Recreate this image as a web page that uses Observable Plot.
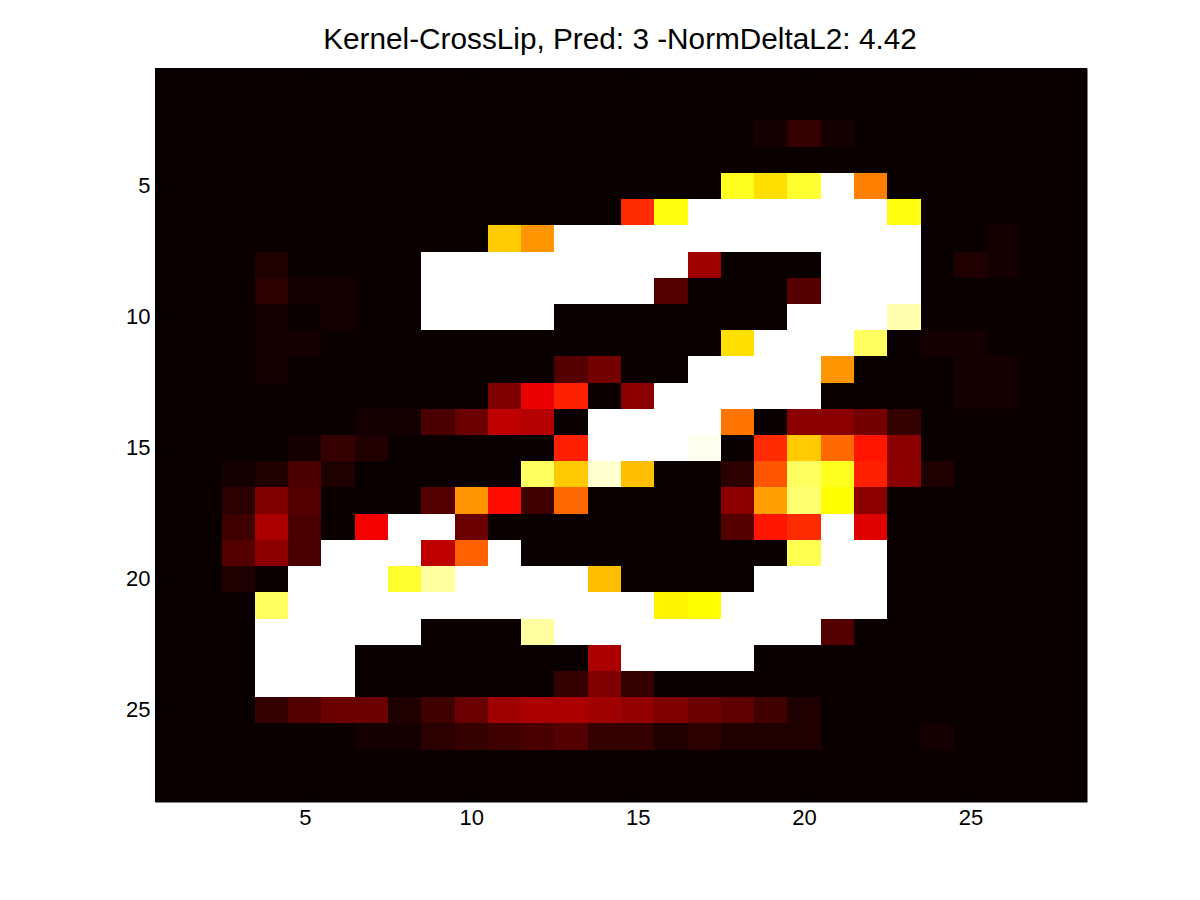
<!DOCTYPE html>
<html>
<head>
<meta charset="utf-8">
<script src="https://cdn.jsdelivr.net/npm/d3@7"></script>
<script src="https://cdn.jsdelivr.net/npm/@observablehq/plot@0.6"></script>
<style>
  html, body { margin: 0; padding: 0; background: #fff; }
  #title { height: 68px; width: 1240px; text-align: center; font-family: "Liberation Sans", Arial, sans-serif; font-size: 29.75px; color: #000; line-height: 78px; white-space: nowrap; overflow: visible; }
  #chart svg { display: block; }
</style>
</head>
<body>
<div id="title"></div>
<div id="chart"></div>
<script>
const titleText = "Kernel-CrossLip, Pred: 3 -NormDeltaL2: 4.42";
const xTicks = [5, 10, 15, 20, 25];
const yTicks = [5, 10, 15, 20, 25];
// colormap anchors of the "hot" map, and levels 1..64 per row
const levelStops = [1, 24, 48, 64];
const levelColors = ["#0a0000", "#ff0000", "#ffff00", "#ffffff"];

const row01 = [1,1,1,1,1, 1,1,1,1,1, 1,1,1,1,1, 1,1,1,1,1, 1,1,1,1,1, 1,1,1];
const row02 = [1,1,1,1,1, 1,1,1,1,1, 1,1,1,1,1, 1,1,1,1,1, 1,1,1,1,1, 1,1,1];
const row03 = [1,1,1,1,1, 1,1,1,1,1, 1,1,1,1,1, 1,1,1,2,5, 2,1,1,1,1, 1,1,1];
const row04 = [1,1,1,1,1, 1,1,1,1,1, 1,1,1,1,1, 1,1,1,1,1, 1,1,1,1,1, 1,1,1];
const row05 = [1,1,1,1,1, 1,1,1,1,1, 1,1,1,1,1, 1,1,50,45,51, 64,36,1,1,1, 1,1,1];
const row06 = [1,1,1,1,1, 1,1,1,1,1, 1,1,1,1,28, 49,64,64,64,64, 64,64,49,1,1, 1,1,1];
const row07 = [1,1,1,1,1, 1,1,1,1,1, 43,38,64,64,64, 64,64,64,64,64, 64,64,64,1,1, 2,1,1];
const row08 = [1,1,1,3,1, 1,1,1,64,64, 64,64,64,64,64, 64,15,1,1,1, 64,64,64,1,3, 2,1,1];
const row09 = [1,1,1,4,2, 2,1,1,64,64, 64,64,64,64,64, 8,1,1,1,8, 64,64,64,1,1, 1,1,1];
const row10 = [1,1,1,2,1, 2,1,1,64,64, 64,64,1,1,1, 1,1,1,1,64, 64,64,59,1,1, 1,1,1];
const row11 = [1,1,1,2,2, 1,1,1,1,1, 1,1,1,1,1, 1,1,45,64,64, 64,54,1,2,2, 1,1,1];
const row12 = [1,1,1,2,1, 1,1,1,1,1, 1,1,8,11,1, 1,64,64,64,64, 38,1,1,1,2, 2,1,1];
const row13 = [1,1,1,1,1, 1,1,1,1,1, 12,22,27,1,13, 64,64,64,64,64, 1,1,1,1,2, 2,1,1];
const row14 = [1,1,1,1,1, 1,2,2,7,10, 18,17,1,64,64, 64,64,35,1,13, 13,11,5,1,1, 1,1,1];
const row15 = [1,1,1,1,2, 5,3,1,1,1, 1,1,27,64,64, 64,63,1,28,43, 34,26,13,1,1, 1,1,1];
const row16 = [1,1,2,3,7, 3,1,1,1,1, 1,54,43,61,42, 1,1,4,32,54, 50,27,13,3,1, 1,1,1];
const row17 = [1,1,4,12,8, 1,1,1,8,38, 25,6,34,1,1, 1,1,13,39,55, 48,13,1,1,1, 1,1,1];
const row18 = [1,1,6,16,7, 1,23,64,64,10, 1,1,1,1,1, 1,1,8,26,28, 64,21,1,1,1, 1,1,1];
const row19 = [1,1,8,13,7, 64,64,64,18,33, 64,1,1,1,1, 1,1,1,1,53, 64,64,1,1,1, 1,1,1];
const row20 = [1,1,3,1,64, 64,64,51,58,64, 64,64,64,42,1, 1,1,1,64,64, 64,64,1,1,1, 1,1,1];
const row21 = [1,1,1,54,64, 64,64,64,64,64, 64,64,64,64,64, 47,48,64,64,64, 64,64,1,1,1, 1,1,1];
const row22 = [1,1,1,64,64, 64,64,64,1,1, 1,58,64,64,64, 64,64,64,64,64, 8,1,1,1,1, 1,1,1];
const row23 = [1,1,1,64,64, 64,1,1,1,1, 1,1,1,16,64, 64,64,64,1,1, 1,1,1,1,1, 1,1,1];
const row24 = [1,1,1,64,64, 64,1,1,1,1, 1,1,5,12,5, 1,1,1,1,1, 1,1,1,1,1, 1,1,1];
const row25 = [1,1,1,5,8, 10,10,3,6,10, 15,16,16,15,14, 12,10,9,6,3, 1,1,1,1,1, 1,1,1];
const row26 = [1,1,1,1,1, 1,2,2,4,5, 6,7,8,5,5, 3,4,3,3,3, 1,1,1,2,1, 1,1,1];
const row27 = [1,1,1,1,1, 1,1,1,1,1, 1,1,1,1,1, 1,1,1,1,1, 1,1,1,1,1, 1,1,1];
const row28 = [1,1,1,1,1, 1,1,1,1,1, 1,1,1,1,1, 1,1,1,1,1, 1,1,1,1,1, 1,1,1];

const rows = [row01,row02,row03,row04,row05,row06,row07,row08,row09,row10,row11,row12,row13,row14,
              row15,row16,row17,row18,row19,row20,row21,row22,row23,row24,row25,row26,row27,row28];
const table = rows.flatMap((r, j) => r.map((v, i) => ({col: i + 1, row: j + 1, level: v})));
const index = d3.range(1, 29);
const axisFont = {fontSize: 22, fontFamily: "Liberation Sans, Arial, sans-serif", fill: "#000"};

document.getElementById("title").textContent = titleText;
const plotH = 734;
const plotW = 932;
const tickLen = 9;
const plot = Plot.plot({
  width: 1200,
  height: 832,
  marginTop: 0,
  marginLeft: 155,
  marginRight: 113,
  marginBottom: 98,
  style: {background: "#fff"},
  x: {type: "band", domain: index, padding: 0, round: false},
  y: {type: "band", domain: index, padding: 0, round: false},
  color: {type: "linear", domain: levelStops, range: levelColors, interpolate: "rgb", clamp: true},
  marks: [
    Plot.cell(table, {x: "col", y: "row", fill: "level", shapeRendering: "crispEdges"}),
    Plot.tickX(xTicks, {x: d => d, stroke: "#000", insetBottom: plotH - tickLen}),
    Plot.tickX(xTicks, {x: d => d, stroke: "#000", insetTop: plotH - tickLen}),
    Plot.tickY(yTicks, {y: d => d, stroke: "#000", insetRight: plotW - tickLen}),
    Plot.tickY(yTicks, {y: d => d, stroke: "#000", insetLeft: plotW - tickLen}),
    Plot.frame({stroke: "#000", inset: 0.5}),
    Plot.axisX({anchor: "bottom", ticks: xTicks, tickSize: 0, tickPadding: 7, label: null, ...axisFont}),
    Plot.axisY({anchor: "left", ticks: yTicks, tickSize: 0, tickPadding: 5, dy: -1, label: null, ...axisFont})
  ]
});
document.getElementById("chart").appendChild(plot);
</script>
</body>
</html>
